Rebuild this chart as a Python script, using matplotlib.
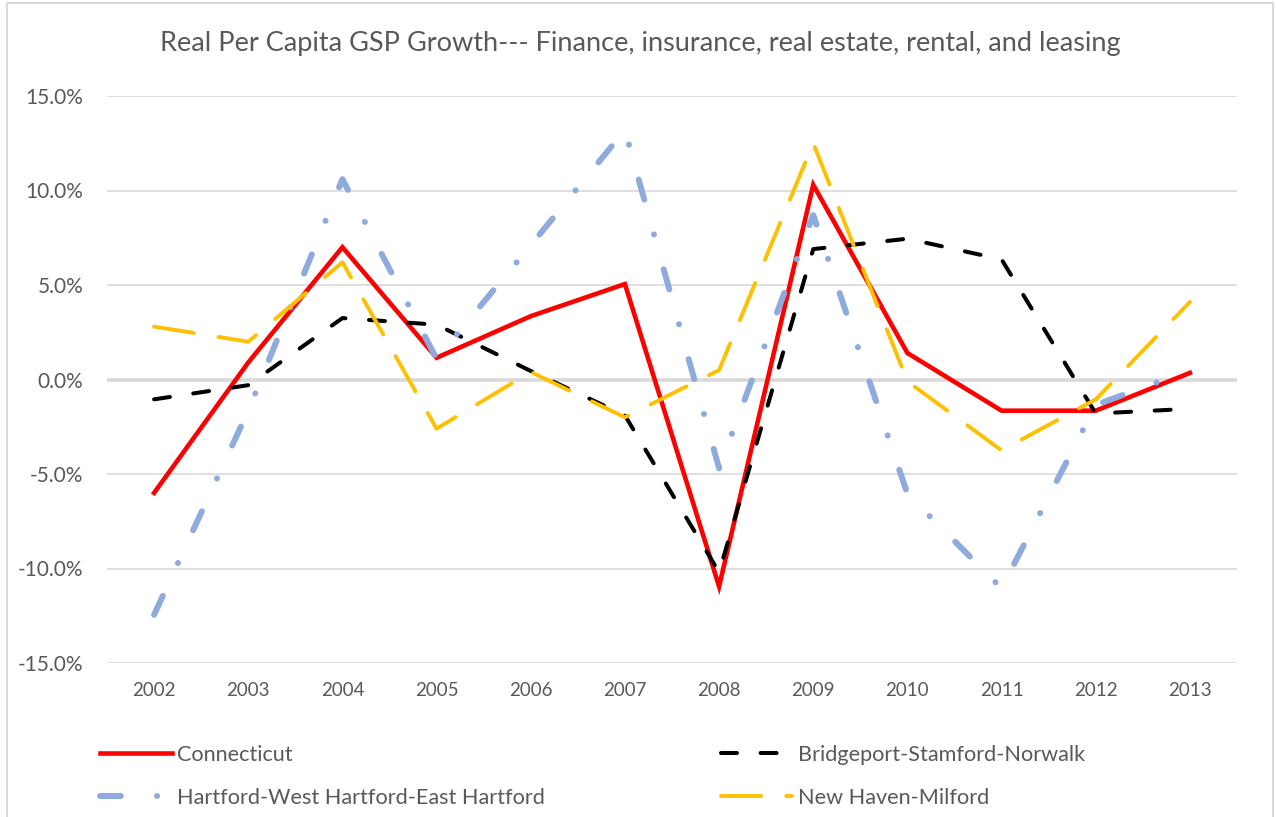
import numpy as np
import matplotlib
matplotlib.use("Agg")
import matplotlib.pyplot as plt
from matplotlib.patches import Rectangle
from matplotlib.ticker import FuncFormatter

plt.rcParams['font.family'] = ['Lato', 'DejaVu Sans']
plt.rcParams['lines.scale_dashes'] = False
plt.rcParams['axes.unicode_minus'] = False

# data (percent)
years = ['2002', '2003', '2004', '2005', '2006', '2007',
         '2008', '2009', '2010', '2011', '2012', '2013']
connecticut = [-6.0, 0.9, 7.0, 1.15, 3.35, 5.05, -10.95, 10.3, 1.4, -1.65, -1.65, 0.35]
bridgeport = [-1.05, -0.3, 3.25, 2.9, 0.45, -1.9, -10.2, 6.9, 7.45, 6.35, -1.8, -1.55]
hartford = [-12.45, -1.65, 10.6, 1.1, 7.1, 13.2, -4.7, 8.7, -6.05, -11.05, -1.35, 0.5]
new_haven = [2.8, 2.0, 6.2, -2.6, 0.4, -2.0, 0.5, 12.5, -0.1, -3.75, -1.05, 4.1]

title = "Real Per Capita GSP Growth--- Finance, insurance, real estate, rental, and leasing"
grey_txt = '#595959'
grid_col = '#d9d9d9'

W, H = 1276, 817
fig = plt.figure(figsize=(W / 100, H / 100), dpi=100)
ax = fig.add_axes([107 / W, 1 - 663 / H, (1237 - 107) / W, (663 - 96) / H])

x = np.arange(len(years))
ax.plot(x, connecticut, color='#ff0000', lw=3.3, solid_joinstyle='miter',
        label='Connecticut', zorder=3)
ax.plot(x, bridgeport, color='black', lw=2.9, dashes=(11.5, 17),
        dash_capstyle='round', label='Bridgeport-Stamford-Norwalk', zorder=4)
ax.plot(x, hartford, color='#8faadc', lw=4.3, dashes=(15, 26, 0.1, 26),
        dash_capstyle='round', label='Hartford-West Hartford-East Hartford', zorder=5)
ax.plot(x, new_haven, color='#ffc000', lw=2.8, dashes=(29, 18),
        dash_capstyle='round', label='New Haven-Milford', zorder=6)

ax.set_xlim(-0.5, 11.5)
ax.set_ylim(-15, 15)
ax.set_yticks(np.arange(-15, 16, 5))
ax.yaxis.set_major_formatter(FuncFormatter(lambda v, p: '%.1f%%' % v))
ax.set_xticks(x)
ax.set_xticklabels(years)
ax.tick_params(length=0, colors=grey_txt)
ax.tick_params(axis='y', labelsize=15, pad=17)
ax.tick_params(axis='x', labelsize=13.5, pad=14)

for s in ax.spines.values():
    s.set_visible(False)
ax.grid(axis='y', color=grid_col, lw=1.2, zorder=0)
ax.axhline(0, color=grid_col, lw=2.6, zorder=1)
ax.set_axisbelow(True)

fig.text(0.502, 1 - 51 / H, title, ha='center', va='baseline', fontsize=19.5, color=grey_txt)

# chart border
fig.patches.append(Rectangle((7 / W, -0.01), (1273 - 7) / W, 1 - 3 / H + 0.01,
                             transform=fig.transFigure, fill=False,
                             edgecolor=grid_col, lw=1.5))

h, l = ax.get_legend_handles_labels()
order = [0, 2, 1, 3]
fig.legend([h[i] for i in order], [l[i] for i in order], ncol=2,
           loc='upper left', bbox_to_anchor=(100 / W, 1 - 745 / H),
           frameon=False, fontsize=15.6, labelcolor=grey_txt,
           handlelength=3.3, handletextpad=0.27, columnspacing=8.1,
           labelspacing=1.05, borderpad=0, borderaxespad=0)

fig.savefig('out.png', dpi=100)
